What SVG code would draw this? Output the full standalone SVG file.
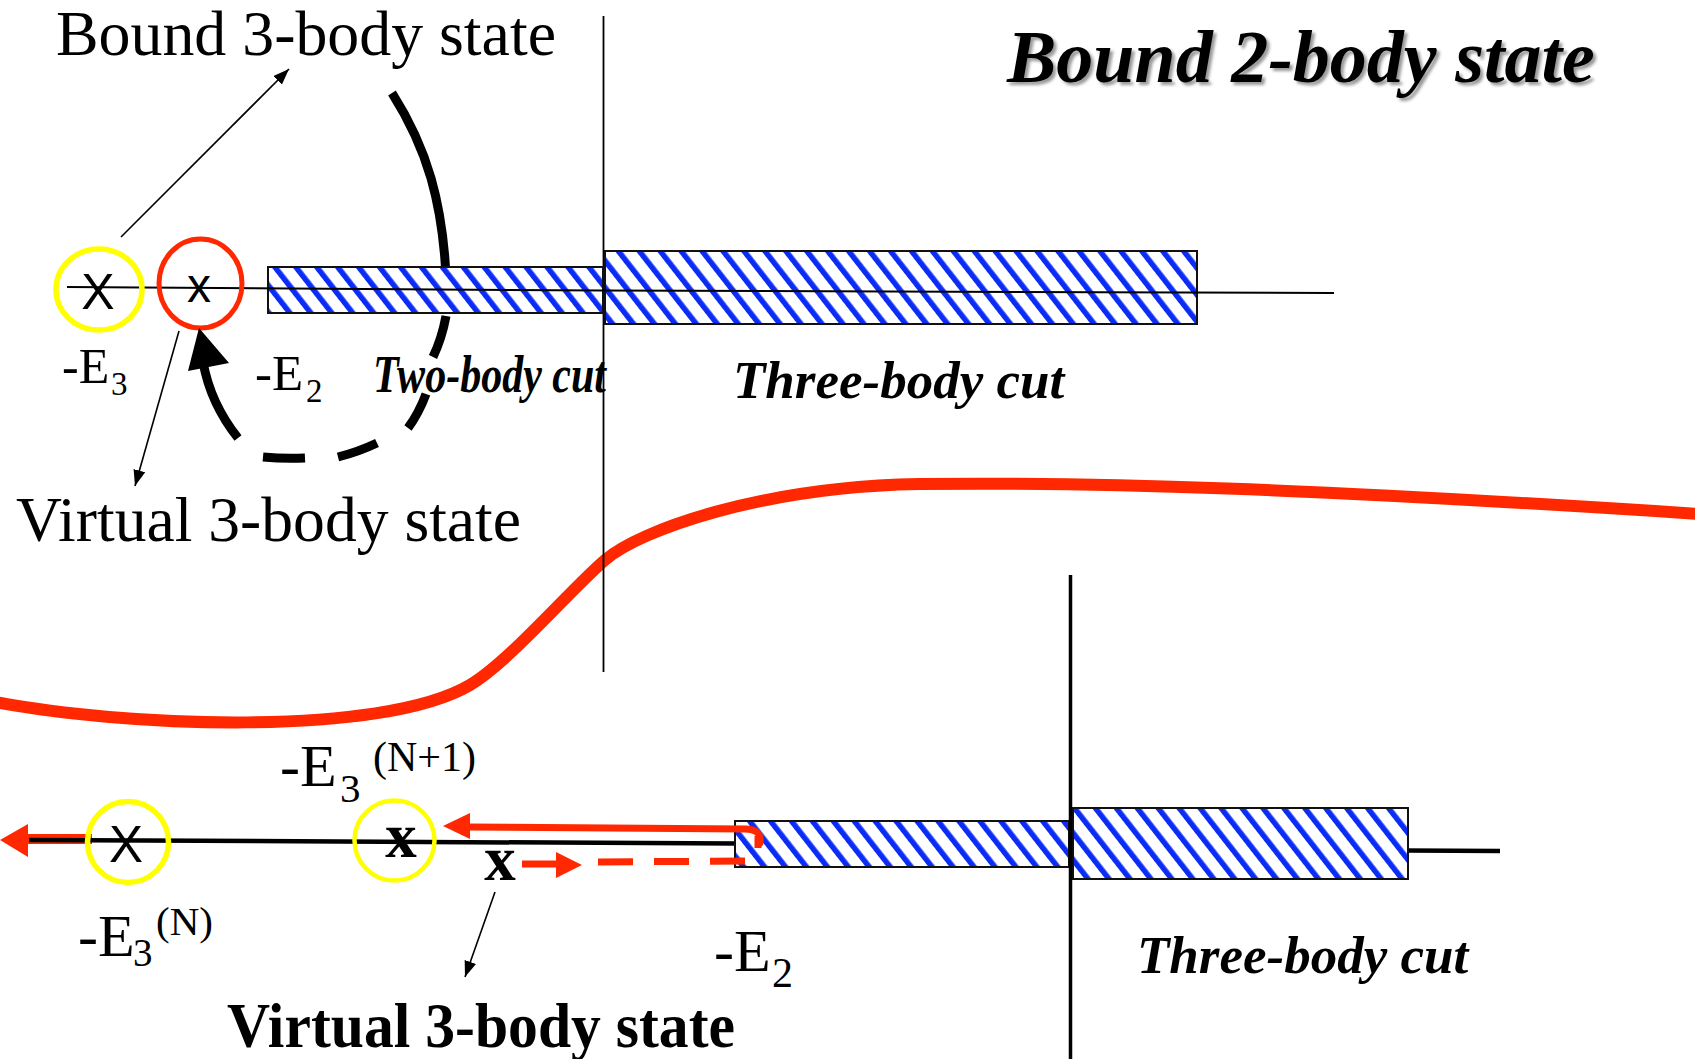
<svg xmlns="http://www.w3.org/2000/svg" width="1695" height="1059" viewBox="0 0 1695 1059">
<defs>
  <pattern id="hatch" patternUnits="userSpaceOnUse" width="16.5" height="16.5" patternTransform="rotate(-38)">
    <rect width="16.5" height="16.5" fill="#ffffff"/>
    <rect width="5.5" height="16.5" fill="#0a2cf5"/>
  </pattern>
  <marker id="thin" markerUnits="userSpaceOnUse" markerWidth="17" markerHeight="12" refX="16" refY="6" orient="auto">
    <path d="M0,0 L16,6 L0,12 z" fill="#000"/>
  </marker>
  <filter id="blur" x="-5%" y="-20%" width="110%" height="140%">
    <feGaussianBlur stdDeviation="1.6"/>
  </filter>
</defs>
<style>
  .serif { font-family: "Liberation Serif", "Times New Roman", serif; fill: #000; }
  .sans { font-family: "Liberation Sans", Arial, sans-serif; fill: #000; }
  .bi { font-family: "Liberation Serif", "Times New Roman", serif; font-weight: bold; font-style: italic; fill: #000; }
  .bold { font-family: "Liberation Serif", "Times New Roman", serif; font-weight: bold; fill: #000; }
  .box { fill: url(#hatch); stroke: #111; stroke-width: 2; }
  .thinarrow { fill: none; stroke: #000; stroke-width: 1.6; marker-end: url(#thin); }
  .yel { fill: none; stroke: #FFFF00; }
  .red { fill: none; stroke: #FF2800; }
</style>

<!-- big red curve -->
<g id="red-curve">
  <path class="red" stroke-width="12" d="M -5 702 C 120 726, 380 738, 470 685 C 510 661, 570 590, 605 560 C 640 530, 760 487, 919 484 C 1100 482, 1300 488, 1700 514"/>
</g>

<!-- top section -->
<g id="top-cut-line">
  <line x1="603.5" y1="16" x2="603.5" y2="672" stroke="#000" stroke-width="1.8"/>
</g>

<g id="connectors">
  <!-- thick black curved arrow, solid part (behind box) -->
  <path d="M 392 93 C 425 145, 445 200, 447 300" fill="none" stroke="#000" stroke-width="9"/>
</g>

<g id="top-two-body-cut">
  <rect class="box" x="268" y="267" width="335" height="46"/>
</g>
<g id="top-three-body-cut">
  <rect class="box" x="605" y="251" width="592" height="73"/>
</g>

<g id="top-axis">
  <polyline points="67,287 603,290.5 1334,293" fill="none" stroke="#000" stroke-width="2"/>
</g>

<g id="top-bound-state">
  <ellipse class="yel" cx="99" cy="289.5" rx="43" ry="40.5" stroke-width="5.5"/>
  <text class="sans" x="98" y="309" font-size="50" text-anchor="middle">X</text>
</g>
<g id="top-virtual-state">
  <ellipse class="red" cx="200.5" cy="283.5" rx="41.5" ry="44.5" stroke-width="5"/>
  <text class="sans" x="199" y="302" font-size="48" text-anchor="middle">x</text>
</g>

<g id="connectors-top">
  <path d="M 446 316 Q 442 338 433 357 M 426 394 Q 419 413 408 428 M 377 443 Q 358 452 338 457 M 305 458 Q 284 459 263 457 M 238 438 C 222 418, 209 395, 203 362" fill="none" stroke="#000" stroke-width="9"/>
  <polygon points="199,328 188,371 229,363" fill="#000"/>
  <line class="thinarrow" x1="121" y1="237" x2="289" y2="69"/>
  <line class="thinarrow" x1="179" y1="331" x2="135" y2="486"/>
</g>

<g id="top-labels">
  <text class="serif" x="56" y="55" font-size="63" textLength="500" lengthAdjust="spacingAndGlyphs">Bound 3-body state</text>
  <text class="bi" x="1010" y="85" font-size="74" style="fill:#9a9a9a" filter="url(#blur)">Bound 2-body state</text>
  <text class="bi" x="1007" y="82" font-size="74">Bound 2-body state</text>
  <text class="serif" x="62" y="383" font-size="50">-E<tspan x="111" y="395" font-size="33">3</tspan></text>
  <text class="serif" x="255" y="390" font-size="51">-E<tspan x="306" y="402" font-size="33">2</tspan></text>
  <text class="bi" x="373" y="392" font-size="53" textLength="233" lengthAdjust="spacingAndGlyphs">Two-body cut</text>
  <text class="bi" x="733" y="398" font-size="53">Three-body cut</text>
  <text class="serif" x="16" y="541" font-size="63" textLength="505" lengthAdjust="spacingAndGlyphs">Virtual 3-body state</text>
</g>

<!-- bottom section -->
<g id="bottom-left-arrow">
  <line x1="92" y1="839" x2="24" y2="839" stroke="#FF2800" stroke-width="10"/>
  <polygon points="0,840 28,824 28,857" fill="#FF2800"/>
</g>
<g id="bottom-axis">
  <polyline points="29,840 736,843.5" fill="none" stroke="#000" stroke-width="4.5"/>
  <line x1="1405" y1="850.5" x2="1500" y2="851" stroke="#000" stroke-width="4.5"/>
</g>
<g id="bottom-two-body-cut">
  <rect class="box" x="735" y="821" width="334" height="46"/>
</g>
<g id="bottom-three-body-cut">
  <rect class="box" x="1073" y="808" width="335" height="71"/>
</g>
<g id="bottom-cut-line">
  <line x1="1070.5" y1="575" x2="1070.5" y2="1059" stroke="#000" stroke-width="3.5"/>
</g>

<g id="bottom-state-N">
  <circle class="yel" cx="128" cy="842" r="40.5" stroke-width="5.5"/>
  <text class="sans" x="126" y="862" font-size="51" text-anchor="middle">X</text>
</g>
<g id="bottom-state-N1">
  <circle class="yel" cx="394.5" cy="840.5" r="40" stroke-width="4.5"/>
  <text class="bold" x="401" y="857" font-size="63" text-anchor="middle">x</text>
</g>
<g id="bottom-virtual-state">
  <text class="bold" x="500" y="880" font-size="63" text-anchor="middle">x</text>
</g>

<g id="connectors-bottom">
  <path class="red" stroke-width="7" stroke-linecap="round" d="M 760 843 Q 762 829 745 829 L 466 827"/>
  <polygon points="443,826 470,813 470,839" fill="#FF2800"/>
  <line x1="522" y1="864" x2="560" y2="864" stroke="#FF2800" stroke-width="7"/>
  <polygon points="556,852 582,865 556,878" fill="#FF2800"/>
  <path class="red" stroke-width="7" stroke-dasharray="35 21" d="M 598 862 L 745 861 Q 758 860 758 850 L 758 836"/>
  <line class="thinarrow" x1="495" y1="892" x2="465" y2="977"/>
</g>

<g id="bottom-labels">
  <text class="serif" x="280" y="786" font-size="60">-E<tspan x="340" y="802" font-size="41">3</tspan><tspan x="373" y="771" font-size="42">(N+1)</tspan></text>
  <text class="serif" x="78" y="956" font-size="60">-E<tspan x="133" y="966" font-size="39">3</tspan><tspan x="156" y="935" font-size="41">(N)</tspan></text>
  <text class="serif" x="714" y="971" font-size="60">-E<tspan x="772" y="987" font-size="42">2</tspan></text>
  <text class="bi" x="1137" y="973" font-size="53">Three-body cut</text>
  <text class="bold" x="227" y="1047" font-size="64" textLength="508" lengthAdjust="spacingAndGlyphs">Virtual 3-body state</text>
</g>
</svg>
